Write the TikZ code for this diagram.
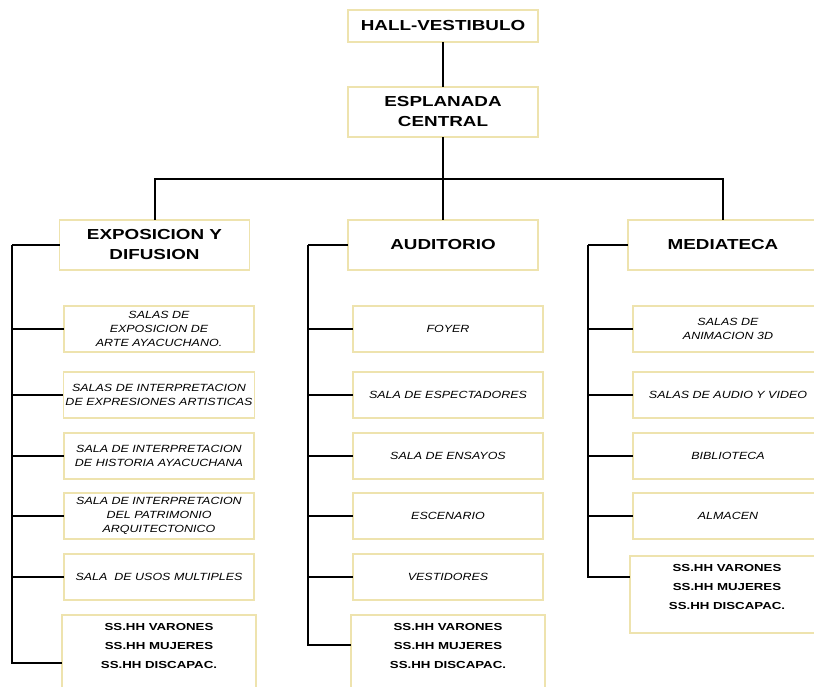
\documentclass[tikz,border=0pt]{standalone}
\usepackage{fontspec}
\setmainfont{Liberation Sans}
\newfontfamily\headfont[FakeStretch=1.3]{Liberation Sans}
\newfontfamily\subfont[FakeStretch=1.2]{Liberation Sans}
\usetikzlibrary{positioning}
\definecolor{boxline}{HTML}{EEE3AE}
\tikzset{
  headbox/.style = {rectangle, draw=boxline, line width=1.8pt, fill=white, outer sep=0pt, minimum width=190pt, minimum height=50pt, align=center, inner sep=2pt, font=\headfont\bfseries\fontsize{14.5}{20}\selectfont},
  subbox/.style = {rectangle, draw=boxline, line width=1.8pt, fill=white, outer sep=0pt, minimum width=190pt, minimum height=46pt, align=center, inner sep=2pt, font=\subfont\itshape\fontsize{10.4}{14}\selectfont},
  ssbox/.style = {rectangle, draw=boxline, line width=1.8pt, fill=white, outer sep=0pt, minimum width=194pt, align=center, inner xsep=2pt, inner ysep=8pt, font=\headfont\bfseries\fontsize{10.2}{19}\selectfont},
  link/.style = {draw=black, line width=2pt}
}

\begin{document}
\begin{tikzpicture}[x=1pt, y=-1pt]
\useasboundingbox (0,0) rectangle (814,686);

% Top
\node[headbox, minimum height=32pt] (hall) at (443,26) {HALL-VESTIBULO};
\node[headbox, below=45pt of hall] (espl) {ESPLANADA\\CENTRAL};

% Heads
\node[headbox, below=83pt of espl] (au0) {AUDITORIO};
\node[headbox, left=98pt of au0, xshift=-0.5pt] (ex0) {EXPOSICION Y\\DIFUSION};
\node[headbox, right=90pt of au0] (me0) {MEDIATECA};

% Column 1 (exposicion)
\node[subbox, below=36pt of ex0, xshift=4.5pt] (ex1) {SALAS DE\\EXPOSICION DE\\ARTE AYACUCHANO.};
\node[subbox, below=20pt of ex1] (ex2) {SALAS DE INTERPRETACION\\DE EXPRESIONES ARTISTICAS};
\node[subbox, below=15pt of ex2] (ex3) {SALA DE INTERPRETACION\\DE HISTORIA AYACUCHANA};
\node[subbox, below=14pt of ex3] (ex4) {SALA DE INTERPRETACION\\DEL PATRIMONIO\\ARQUITECTONICO};
\node[subbox, below=15pt of ex4] (ex5) {SALA\ \ DE USOS MULTIPLES};
\node[ssbox, below=15pt of ex5, text depth=23pt] (ex6) {SS.HH VARONES\\SS.HH MUJERES\\SS.HH DISCAPAC.};

% Column 2 (auditorio)
\node[subbox, below=36pt of au0, xshift=5pt] (au1) {FOYER};
\node[subbox, below=20pt of au1] (au2) {SALA DE ESPECTADORES};
\node[subbox, below=15pt of au2] (au3) {SALA DE ENSAYOS};
\node[subbox, below=14pt of au3] (au4) {ESCENARIO};
\node[subbox, below=15pt of au4] (au5) {VESTIDORES};
\node[ssbox, below=15pt of au5, text depth=23pt] (au6) {SS.HH VARONES\\SS.HH MUJERES\\SS.HH DISCAPAC.};

% Column 3 (mediateca)
\node[subbox, below=36pt of me0, xshift=5pt] (me1) {SALAS DE\\ANIMACION 3D};
\node[subbox, below=20pt of me1] (me2) {SALAS DE AUDIO Y VIDEO};
\node[subbox, below=15pt of me2] (me3) {BIBLIOTECA};
\node[subbox, below=14pt of me3] (me4) {ALMACEN};
\node[ssbox, below=17pt of me4, xshift=-1pt, text depth=16pt] (me5) {SS.HH VARONES\\SS.HH MUJERES\\SS.HH DISCAPAC.};

% ----- LINES -----
\coordinate (bus) at ([yshift=-42pt]espl.south);
\coordinate (exT) at ([xshift=-48pt]ex0.west);
\coordinate (auT) at ([xshift=-40pt]au0.west);
\coordinate (meT) at ([xshift=-40pt]me0.west);

\draw[link] (hall.south) -- (espl.north);
\draw[link] (espl.south) -- (bus);
\foreach \h in {ex0, au0, me0}
  \draw[link] (bus) -| (\h.north);

% Branches
\draw[link] (ex0.west) -- (exT);
\draw[link] (au0.west) -- (auT);
\draw[link] (me0.west) -- (meT);
\foreach \n in {ex1, ex2, ex3, ex4, ex5}
  \draw[link] (exT) |- (\n.west);
\foreach \n in {au1, au2, au3, au4, au5}
  \draw[link] (auT) |- (\n.west);
\foreach \n in {me1, me2, me3, me4}
  \draw[link] (meT) |- (\n.west);
\draw[link] (exT) |- ([yshift=-48pt]ex6.north west);
\draw[link] (auT) |- ([yshift=-30pt]au6.north west);
\draw[link] (meT) |- ([yshift=-21pt]me5.north west);

\end{tikzpicture}
\end{document}
